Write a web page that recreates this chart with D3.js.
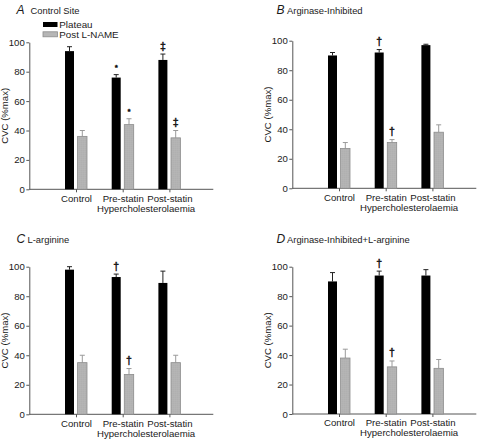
<!DOCTYPE html>
<html>
<head>
<meta charset="utf-8">
<script src="https://cdn.jsdelivr.net/npm/d3@7/dist/d3.min.js"></script>
<style>
  html, body { margin: 0; padding: 0; background: #fff; }
  svg { display: block; }
  text { font-family: "Liberation Sans", Arial, Helvetica, sans-serif; fill: #1a1a1a; }
</style>
</head>
<body>
<svg id="chart" width="480" height="441"></svg>
<script>
// ---------------- data ----------------
const categories = ["Control", "Pre-statin", "Post-statin"];
const groupLabel = "Hypercholesterolaemia";
const seriesNames = ["Plateau", "Post L-NAME"];
const yTicks = [0, 20, 40, 60, 80, 100];
const yLabel = "CVC (%max)";

const panelLetters = ["A", "B", "C", "D"];
const panelTitles = ["Control Site", "Arginase-Inhibited", "L-arginine", "Arginase-Inhibited+L-arginine"];

const plateauA = [94, 76, 88];
const plateauErrA = [3, 2, 4];
const lnameA = [36, 44, 35];
const lnameErrA = [4, 4, 5];
const plateauMarkA = ["", "*", "\u2021"];
const lnameMarkA = ["", "*", "\u2021"];

const plateauB = [90, 92, 97];
const plateauErrB = [2, 2, 0.6];
const lnameB = [27, 31, 38];
const lnameErrB = [4, 2, 5];
const plateauMarkB = ["", "\u2020", ""];
const lnameMarkB = ["", "\u2020", ""];

const plateauC = [98, 93, 89];
const plateauErrC = [2, 2, 8];
const lnameC = [35, 27, 35];
const lnameErrC = [5, 4, 5];
const plateauMarkC = ["", "\u2020", ""];
const lnameMarkC = ["", "\u2020", ""];

const plateauD = [90, 94, 94];
const plateauErrD = [6, 3, 4];
const lnameD = [38, 32, 31];
const lnameErrD = [6, 4, 6];
const plateauMarkD = ["", "\u2020", ""];
const lnameMarkD = ["", "\u2020", ""];

// ---------------- layout ----------------
const layout = [
  { left: 29.3, top: 42.3, h: 147.0, letterX: 16.5, textX: 30.5, titleY: 14.3 },
  { left: 292.3, top: 40.7, h: 147.6, letterX: 276.5, textX: 287, titleY: 14.0 },
  { left: 29.3, top: 266.7, h: 147.6, letterX: 16.5, textX: 27.5, titleY: 242.8 },
  { left: 292.3, top: 266.7, h: 147.3, letterX: 276.5, textX: 287, titleY: 242.5 }
];
const panelData = [
  [plateauA, plateauErrA, lnameA, lnameErrA, plateauMarkA, lnameMarkA],
  [plateauB, plateauErrB, lnameB, lnameErrB, plateauMarkB, lnameMarkB],
  [plateauC, plateauErrC, lnameC, lnameErrC, plateauMarkC, lnameMarkC],
  [plateauD, plateauErrD, lnameD, lnameErrD, plateauMarkD, lnameMarkD]
];

const axisLen = 184;
const fs = 9.6;
const blackFill = "#000";
const greyFill = "#b6b6b6";
const greyStroke = "#8c8c8c";
const axisColor = "#555";

const svg = d3.select("#chart");

// subtle texture for grey bars
const defs = svg.append("defs");
const pat = defs.append("pattern").attr("id", "stip").attr("width", 2).attr("height", 2)
  .attr("patternUnits", "userSpaceOnUse");
pat.append("rect").attr("width", 2).attr("height", 2).attr("fill", greyFill);
pat.append("rect").attr("width", 1).attr("height", 1).attr("fill", "#a9a9a9");

panelData.forEach((pd, i) => {
  const L = layout[i];
  const [pv, pe, lv, le, pm, lm] = pd;
  const g = svg.append("g").attr("transform", `translate(${L.left},${L.top})`);

  const y = d3.scaleLinear().domain([0, 100]).range([L.h, 0]);
  const x = d3.scalePoint().domain(categories).range([46.7, 140.1]);

  // title
  const t = svg.append("g");
  t.append("text").attr("x", L.letterX).attr("y", L.titleY)
    .attr("font-size", 12).attr("font-style", "italic").text(panelLetters[i]);
  t.append("text").attr("x", L.textX).attr("y", L.titleY)
    .attr("font-size", 9.4).text(panelTitles[i]);

  // y axis
  const ya = g.append("g").call(d3.axisLeft(y).tickValues(yTicks).tickSize(3).tickSizeOuter(0).tickPadding(1.5));
  ya.select(".domain").attr("stroke", axisColor);
  ya.selectAll(".tick line").attr("stroke", axisColor);
  ya.selectAll(".tick text").attr("font-size", fs).attr("fill", "#1a1a1a")
    .attr("font-family", "Liberation Sans, Arial, sans-serif");

  // x axis
  const xa = g.append("g").attr("transform", `translate(0,${L.h})`)
    .call(d3.axisBottom(x).tickSize(3).tickSizeOuter(0).tickPadding(2.5));
  xa.select(".domain").remove();
  xa.append("line").attr("x1", 0).attr("x2", axisLen).attr("y1", 0).attr("y2", 0)
    .attr("stroke", axisColor);
  xa.selectAll(".tick line").attr("stroke", axisColor);
  xa.selectAll(".tick text").attr("font-size", fs).attr("fill", "#1a1a1a")
    .attr("font-family", "Liberation Sans, Arial, sans-serif");
  g.append("text")
    .attr("x", (x(categories[1]) + x(categories[2])) / 2)
    .attr("y", L.h + 22.3)
    .attr("text-anchor", "middle").attr("font-size", fs).text(groupLabel);

  // y label
  g.append("text")
    .attr("transform", `translate(${-21},${L.h / 2}) rotate(-90)`)
    .attr("text-anchor", "middle").attr("font-size", fs).text(yLabel);

  // bars
  const series = [
    { v: pv, e: pe, m: pm, off: -11, w: 9, fill: blackFill, stroke: "none", ec: "#222" },
    { v: lv, e: le, m: lm, off: 1.6, w: 9.4, fill: "url(#stip)", stroke: greyStroke, ec: "#9a9a9a" }
  ];
  series.forEach(s => {
    const sg = g.append("g");
    categories.forEach((c, j) => {
      const bx = x(c) + s.off;
      const cx = bx + s.w / 2;
      // error bar
      sg.append("line").attr("x1", cx).attr("x2", cx)
        .attr("y1", y(s.v[j])).attr("y2", y(s.v[j] + s.e[j]))
        .attr("stroke", s.ec).attr("stroke-width", 1);
      sg.append("line").attr("x1", cx - 2.5).attr("x2", cx + 2.5)
        .attr("y1", y(s.v[j] + s.e[j])).attr("y2", y(s.v[j] + s.e[j]))
        .attr("stroke", s.ec).attr("stroke-width", 1);
      sg.append("rect")
        .attr("x", bx).attr("y", y(s.v[j]))
        .attr("width", s.w).attr("height", y(0) - y(s.v[j]))
        .attr("fill", s.fill)
        .attr("stroke", s.stroke).attr("stroke-width", s.stroke === "none" ? 0 : 0.8);
      if (s.m[j]) {
        sg.append("text")
          .attr("x", cx).attr("y", y(s.v[j] + s.e[j]) - 4.5)
          .attr("text-anchor", "middle")
          .attr("fill", "#111")
          .attr("stroke", "#111").attr("stroke-width", 0.45)
          .attr("font-family", "DejaVu Sans, sans-serif")
          .attr("font-size", s.m[j] === "*" ? 8 : 10.5)
          .text(s.m[j]);
      }
    });
  });

  // legend (panel A only)
  if (i === 0) {
    const lg = svg.append("g");
    const items = [
      { name: seriesNames[0], fill: blackFill, stroke: "none", y: 22 },
      { name: seriesNames[1], fill: greyFill, stroke: greyStroke, y: 31.8 }
    ];
    items.forEach(it => {
      lg.append("rect").attr("x", 43).attr("y", it.y).attr("width", 14.5).attr("height", 5)
        .attr("fill", it.fill).attr("stroke", it.stroke).attr("stroke-width", it.stroke === "none" ? 0 : 0.8);
      lg.append("text").attr("x", 59.3).attr("y", it.y + 5.8).attr("font-size", 9.8).text(it.name);
    });
  }
});
</script>
</body>
</html>
